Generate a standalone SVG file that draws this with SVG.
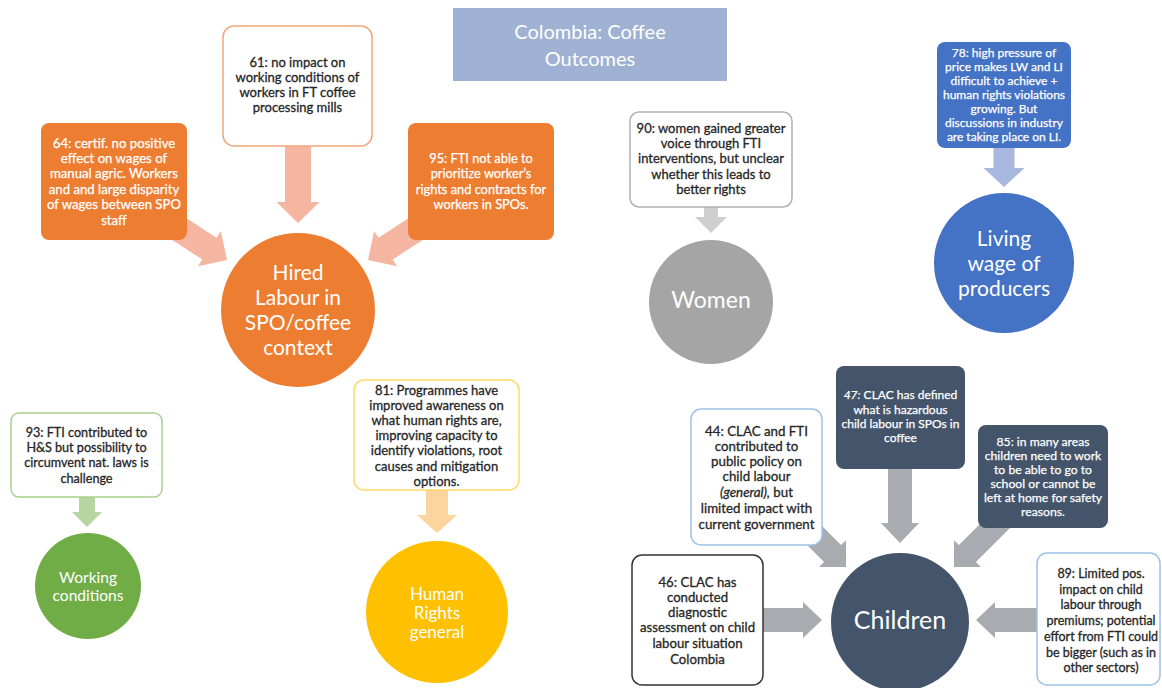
<svg xmlns="http://www.w3.org/2000/svg" width="1162" height="688" viewBox="0 0 1162 688">
<style>
text{font-family:Lato,"Liberation Sans",sans-serif;text-anchor:middle}
.t{font-size:13px;fill:#262626;stroke:#262626;stroke-width:0.3px}
.tw{font-size:13px;fill:#ffffff;stroke:#ffffff;stroke-width:0.25px}
.ts{font-size:12px;fill:#ffffff;stroke:#ffffff;stroke-width:0.25px}
.c{fill:#ffffff}
.box{fill:#ffffff;stroke-width:1.5}
.or{fill:#ED7D31}
.sl{fill:#44546A}
.a-or{fill:#F4B6A0}
.a-gy{fill:#CFCFCF}
.a-bl{fill:#A9B8DE}
.a-gr{fill:#B5D6A0}
.a-ye{fill:#FBD49E}
.a-ch{fill:#A8ABB0}
</style>
<rect width="1162" height="688" fill="#ffffff"/>

<g id="connectors">
  <polygon class="a-or" points="285,140 311,140 311,202 319.5,202 298,223 276.5,202 285,202"/>
  <polygon class="a-or" transform="translate(227,260) rotate(33)" points="-95,-13 -21,-13 -21,-21 0,0 -21,21 -21,13 -95,13"/>
  <polygon class="a-or" transform="translate(368,260) rotate(147)" points="-95,-13 -21,-13 -21,-21 0,0 -21,21 -21,13 -95,13"/>
  <polygon class="a-gy" points="704,205 718,205 718,217 727,217 711,233 695,217 704,217"/>
  <polygon class="a-bl" points="993.5,146 1014.5,146 1014.5,168 1024.5,168 1004,187 983.5,168 993.5,168"/>
  <polygon class="a-gr" points="79,495 95,495 95,512 102,512 87,527 72,512 79,512"/>
  <polygon class="a-ye" points="426,488 448,488 448,515 457,515 437,533 417,515 426,515"/>
  <polygon class="a-ch" points="888,466 912,466 912,523 919,523 900,543 881,523 888,523"/>
  <polygon class="a-ch" points="760,608 803,608 803,602 822,620 803,638 803,632 760,632"/>
  <polygon class="a-ch" points="1040,608 995,608 995,602 976,620 995,638 995,632 1040,632"/>
  <polygon class="a-ch" transform="translate(846,567) rotate(45)" points="-75,-12 -19,-12 -19,-19 0,0 -19,19 -19,12 -75,12"/>
  <polygon class="a-ch" transform="translate(954,567) rotate(135)" points="-75,-12 -19,-12 -19,-19 0,0 -19,19 -19,12 -75,12"/>
</g>

<g id="title">
  <rect x="453" y="8" width="274" height="73" fill="#9FB2D3"/>
  <text class="c" style="font-size:20px"><tspan x="590" y="39">Colombia: Coffee</tspan><tspan x="590" y="66">Outcomes</tspan></text>
</g>

<g id="n61">
  <rect class="box" x="223" y="26" width="149" height="120" rx="11" stroke="#F2A679"/>
  <text class="t"><tspan x="297.5" y="67">61: no impact on</tspan><tspan x="297.5" y="82">working conditions of</tspan><tspan x="297.5" y="97">workers in FT  coffee</tspan><tspan x="297.5" y="112">processing mills</tspan></text>
</g>

<g id="n64">
  <rect class="or" x="41" y="123" width="146" height="117" rx="8"/>
  <text class="tw" style="font-size:13.2px"><tspan x="114" y="147.5">64: certif. no positive</tspan><tspan x="114" y="162.5">effect on wages of</tspan><tspan x="114" y="177.5">manual agric. Workers</tspan><tspan x="114" y="193.5">and and large disparity</tspan><tspan x="114" y="208.5">of wages between SPO</tspan><tspan x="114" y="224.5">staff</tspan></text>
</g>

<g id="n95">
  <rect class="or" x="408" y="123" width="146" height="117" rx="8"/>
  <text class="tw" style="font-size:12.8px"><tspan x="481" y="162.5">95: FTI not able to</tspan><tspan x="481" y="177.5">prioritize worker’s</tspan><tspan x="481" y="193.5">rights and contracts for</tspan><tspan x="481" y="208.5">workers in SPOs.</tspan></text>
</g>

<g id="hired">
  <circle class="or" cx="298" cy="310" r="77"/>
  <text class="c" style="font-size:21px"><tspan x="298" y="280">Hired</tspan><tspan x="298" y="305">Labour in</tspan><tspan x="298" y="330">SPO/coffee</tspan><tspan x="298" y="355">context</tspan></text>
</g>

<g id="n90">
  <rect class="box" x="630" y="112" width="162" height="95" rx="9" stroke="#B0B0B0"/>
  <text class="t"><tspan x="711" y="132.5">90: women gained greater</tspan><tspan x="711" y="147.5">voice through FTI</tspan><tspan x="711" y="162.5">interventions, but unclear</tspan><tspan x="711" y="178.5">whether this leads to</tspan><tspan x="711" y="193.5">better rights</tspan></text>
</g>

<g id="women">
  <circle cx="711" cy="302" r="62" fill="#A5A5A5"/>
  <text class="c" style="font-size:23px" x="711" y="308">Women</text>
</g>

<g id="n78">
  <rect x="937" y="42" width="134" height="106" rx="8" fill="#4472C4"/>
  <text class="ts"><tspan x="1004" y="57">78: high pressure of</tspan><tspan x="1004" y="71">price makes LW and LI</tspan><tspan x="1004" y="85">difficult to achieve +</tspan><tspan x="1004" y="99">human rights violations</tspan><tspan x="1004" y="113">growing. But</tspan><tspan x="1004" y="127">discussions in industry</tspan><tspan x="1004" y="141">are taking place on LI.</tspan></text>
</g>

<g id="living">
  <circle cx="1004" cy="263" r="70" fill="#4472C4"/>
  <text class="c" style="font-size:21px"><tspan x="1004" y="245.5">Living</tspan><tspan x="1004" y="270.5">wage of</tspan><tspan x="1004" y="295.5">producers</tspan></text>
</g>

<g id="n93">
  <rect class="box" x="11" y="413" width="151" height="84" rx="8" stroke="#A9D18E"/>
  <text class="t" style="font-size:12.6px"><tspan x="86.5" y="436.5">93: FTI contributed to</tspan><tspan x="86.5" y="451.5">H&amp;S but possibility to</tspan><tspan x="86.5" y="466.5">circumvent nat. laws is</tspan><tspan x="86.5" y="482.5">challenge</tspan></text>
</g>

<g id="working">
  <circle cx="88" cy="586" r="53" fill="#70AD47"/>
  <text class="c" style="font-size:15.5px"><tspan x="88" y="582.5">Working</tspan><tspan x="88" y="600.5">conditions</tspan></text>
</g>

<g id="n81">
  <rect class="box" x="354" y="380" width="165" height="110" rx="10" stroke="#FFD966"/>
  <text class="t"><tspan x="436.5" y="394.5">81: Programmes have</tspan><tspan x="436.5" y="409.5">improved awareness on</tspan><tspan x="436.5" y="424.5">what human rights are,</tspan><tspan x="436.5" y="440">improving capacity to</tspan><tspan x="436.5" y="455">identify violations, root</tspan><tspan x="436.5" y="470.5">causes and mitigation</tspan><tspan x="436.5" y="486">options.</tspan></text>
</g>

<g id="human">
  <circle cx="437" cy="612" r="71" fill="#FFC000"/>
  <text class="c" style="font-size:17px"><tspan x="437" y="600">Human</tspan><tspan x="437" y="619">Rights</tspan><tspan x="437" y="638">general</tspan></text>
</g>

<g id="n47">
  <rect class="sl" x="836" y="366" width="129" height="103" rx="8"/>
  <text class="tw" style="font-size:12px"><tspan x="900.5" y="399"><tspan font-style="italic">47:</tspan> CLAC has defined</tspan><tspan x="900.5" y="414">what is hazardous</tspan><tspan x="900.5" y="428">child labour in SPOs in</tspan><tspan x="900.5" y="442">coffee</tspan></text>
</g>

<g id="n44">
  <rect class="box" x="691" y="409" width="131" height="136" rx="10" stroke="#9DC3E6"/>
  <text class="t" style="font-size:13.3px"><tspan x="756.5" y="435.5">44: CLAC and FTI</tspan><tspan x="756.5" y="450.5">contributed to</tspan><tspan x="756.5" y="465.5">public policy on</tspan><tspan x="756.5" y="480.5">child labour</tspan><tspan x="756.5" y="496.5"><tspan font-style="italic">(general),</tspan> but</tspan><tspan x="756.5" y="512.5">limited impact with</tspan><tspan x="756.5" y="528.5">current government</tspan></text>
</g>

<g id="n85">
  <rect class="sl" x="978" y="425" width="130" height="103" rx="8"/>
  <text class="tw" style="font-size:12.2px"><tspan x="1043" y="446">85: in many areas</tspan><tspan x="1043" y="460">children need to work</tspan><tspan x="1043" y="474">to be able to go to</tspan><tspan x="1043" y="488">school or cannot be</tspan><tspan x="1043" y="501.5">left at home for safety</tspan><tspan x="1043" y="515.5">reasons.</tspan></text>
</g>

<g id="n46">
  <rect class="box" x="632" y="555" width="131" height="130" rx="10" stroke="#333333" stroke-width="2"/>
  <text class="t" style="font-size:13.2px"><tspan x="697.5" y="586.5">46: CLAC has</tspan><tspan x="697.5" y="601.5">conducted</tspan><tspan x="697.5" y="616.5">diagnostic</tspan><tspan x="697.5" y="631.5">assessment on child</tspan><tspan x="697.5" y="647.5">labour situation</tspan><tspan x="697.5" y="663.5">Colombia</tspan></text>
</g>

<g id="n89">
  <rect class="box" x="1037" y="553" width="123" height="132" rx="10" stroke="#9DC3E6"/>
  <text class="t" style="font-size:12.5px"><tspan x="1101" y="577.5">89: Limited pos.</tspan><tspan x="1101" y="593.5">impact on child</tspan><tspan x="1101" y="608.5">labour through</tspan><tspan x="1101" y="624.5">premiums; potential</tspan><tspan x="1101" y="640.5">effort from FTI could</tspan><tspan x="1101" y="656.5">be bigger (such as in</tspan><tspan x="1101" y="671.5">other sectors)</tspan></text>
</g>

<g id="children">
  <circle class="sl" cx="900" cy="622" r="69"/>
  <text class="c" style="font-size:25px" x="900" y="629">Children</text>
</g>
</svg>
